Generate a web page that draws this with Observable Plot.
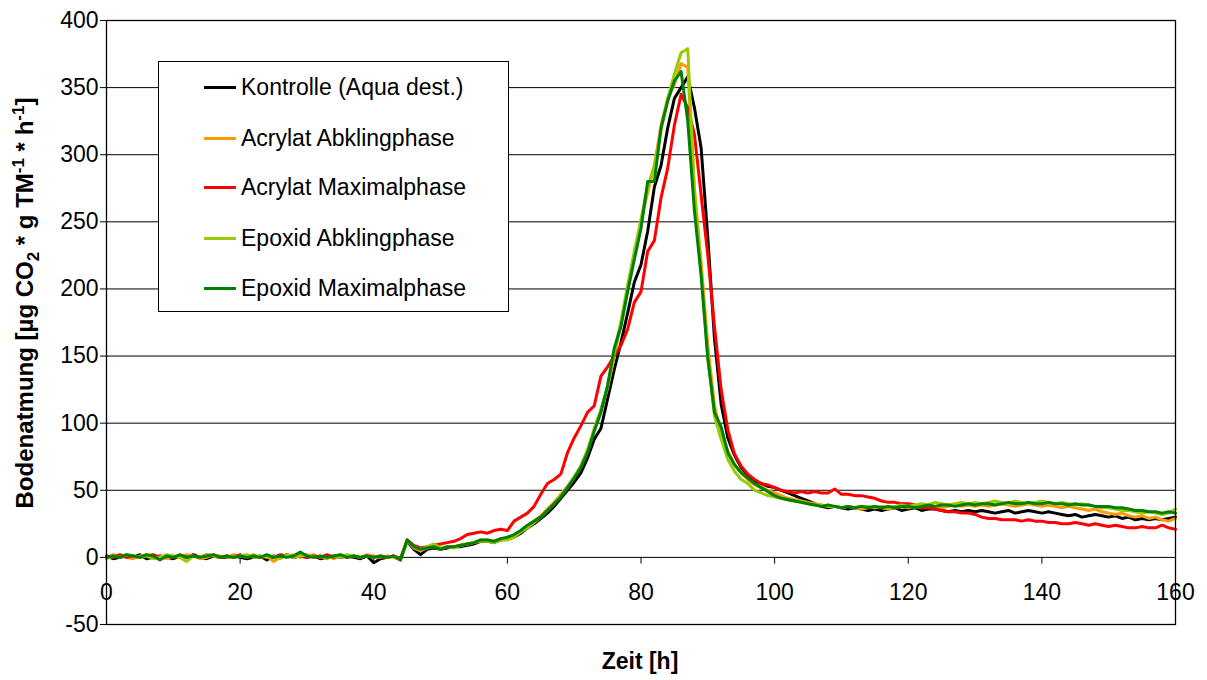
<!DOCTYPE html>
<html>
<head>
<meta charset="utf-8">
<script src="https://cdn.jsdelivr.net/npm/d3@7"></script>
<script src="https://cdn.jsdelivr.net/npm/@observablehq/plot@0.6"></script>
<style>
  body { margin: 0; background: #fff; font-family: "Liberation Sans", Arial, sans-serif; }
  #wrap { position: relative; width: 1207px; height: 680px; overflow: hidden; }
  #legend { position: absolute; left: 158px; top: 61px; width: 351px; height: 251px;
            border: 1px solid #000; background: #fff; box-sizing: border-box; }
  .row { position: absolute; left: 0; height: 30px; display: flex; align-items: center; }
  .sw { width: 32px; height: 3px; margin-left: 45px; margin-right: 5px; }
  .lbl { font-size: 23px; color: #000; white-space: nowrap; }
</style>
</head>
<body>
<div id="wrap"></div>
<script>
// ---- data (time in hours, respiration in µg CO2 * g TM^-1 * h^-1), one value per hour 0..160 ----
const hours = d3.range(0, 161, 1);

const seriesNames = [
  "Kontrolle (Aqua dest.)",
  "Acrylat Abklingphase",
  "Acrylat Maximalphase",
  "Epoxid Abklingphase",
  "Epoxid Maximalphase"
];
const seriesColors = ["#000000", "#FF9900", "#FF0000", "#99CC00", "#008000"];

const kontrolle = [
  1, -1, 0, 1, 0, 2, -1, 0, 1, 0,
  -1, 1, 0, 2, 0, -1, 1, 0, 0, 1,
  0, -1, 0, 1, -2, 1, 0, 2, 0, 1,
  0, 1, -1, 0, 1, 0, 1, 0, -1, 1,
  -4, -1, 0, 1, -1, 12, 6, 2, 6, 7,
  6, 7, 8, 8, 9, 10, 12, 12, 11, 13,
  14, 15, 18, 22, 25, 29, 33, 38, 44, 50,
  56, 63, 74, 88, 96, 118, 140, 160, 182, 205,
  218, 243, 276, 292, 320, 342, 350, 358, 335, 305,
  238, 163, 114, 89, 76, 67, 61, 57, 55, 53,
  52, 50, 48, 46, 44, 42, 40, 38, 37, 38,
  37, 36, 37, 36, 35, 36, 35, 36, 37, 35,
  36, 37, 35, 36, 36, 35, 34, 35, 34, 35,
  34, 35, 34, 33, 34, 35, 33, 34, 35, 34,
  33, 34, 33, 32, 31, 32, 30, 31, 32, 31,
  30, 31, 29, 30, 28, 29, 28, 29, 28, 29,
  30
];

const acrylatAbkling = [
  0, 2, 1, 0, -1, 1, 2, 0, 1, -1,
  1, 0, 2, 1, -1, 0, 2, 1, 0, 2,
  1, 0, 2, 0, 1, -3, 0, 1, 2, 0,
  1, 2, 0, 1, -1, 2, 0, 1, 0, 2,
  1, 0, 1, 0, -2, 13, 7, 5, 7, 8,
  6, 8, 8, 9, 10, 11, 13, 13, 12, 14,
  14, 16, 19, 23, 27, 31, 36, 41, 47, 53,
  60, 68, 80, 95, 110, 126, 150, 174, 200, 225,
  250, 272, 292, 322, 342, 352, 368, 365, 275, 220,
  158, 113, 92, 79, 69, 63, 58, 54, 52, 50,
  48, 46, 44, 43, 42, 41, 40, 39, 38, 38,
  37, 38, 37, 36, 37, 38, 37, 36, 37, 38,
  37, 38, 37, 38, 38, 37, 38, 39, 38, 39,
  38, 39, 38, 39, 40, 39, 38, 39, 40, 39,
  38, 39, 38, 37, 38, 37, 36, 35, 36, 34,
  33, 32, 33, 31, 30, 31, 29, 30, 28, 27,
  29
];

const acrylatMaximal = [
  1, 0, 2, 0, 1, 0, 1, 2, 0, 1,
  0, 1, 0, 1, 0, 2, 1, 0, 1, 0,
  2, 0, 1, 0, 1, 0, 2, 1, 0, 1,
  0, 1, 0, 2, 0, 1, 0, 1, 0, 1,
  0, 1, 0, 1, -1, 13, 9, 7, 8, 9,
  10, 11, 12, 14, 17, 18, 19, 18, 20, 21,
  20, 27, 30, 33, 38, 47, 55, 58, 62, 78,
  89, 98, 108, 113, 135, 142, 150, 158, 170, 190,
  198, 228, 236, 268, 290, 322, 345, 335, 315, 270,
  225, 172, 125, 95, 77, 68, 62, 58, 55, 54,
  52, 50, 49, 48, 49, 48, 49, 48, 48, 51,
  47, 47, 46, 46, 45, 44, 42, 41, 41, 40,
  40, 39, 37, 37, 36, 35, 34, 34, 33, 33,
  32, 30, 29, 29, 28, 28, 28, 27, 28, 27,
  27, 26, 26, 25, 25, 26, 25, 24, 25, 24,
  23, 24, 23, 22, 22, 23, 22, 22, 24, 22,
  21
];

const epoxidAbkling = [
  -1, 1, 0, 2, 1, 0, 1, -1, 0, 2,
  1, 0, -3, 1, 0, 2, 1, 0, 1, 0,
  1, 2, 0, 1, 0, 1, -1, 2, 0, 1,
  2, 0, 1, -1, 1, 0, 2, 1, 0, 1,
  0, 1, 0, 1, -2, 12, 8, 6, 8, 10,
  7, 8, 7, 9, 10, 11, 12, 12, 11, 13,
  13, 15, 19, 22, 26, 30, 35, 40, 46, 52,
  60, 68, 80, 96, 110, 128, 152, 176, 203, 228,
  252, 276, 292, 318, 342, 360, 376, 379, 270, 212,
  150, 105, 88, 73, 64, 58, 55, 50, 48, 46,
  45, 44, 43, 42, 41, 40, 39, 39, 38, 38,
  37, 38, 37, 38, 38, 37, 38, 37, 38, 39,
  38, 39, 40, 39, 41, 40, 39, 40, 41, 40,
  41, 40, 41, 42, 41, 40, 42, 41, 40, 41,
  42, 41, 40, 41, 40, 39, 40, 39, 38, 37,
  37, 36, 35, 35, 34, 33, 34, 33, 32, 33,
  36
];

const epoxidMaximal = [
  0, 1, 0, 2, 1, 0, 2, 1, -2, 1,
  0, 2, 0, 1, 0, 1, 2, 0, 1, 0,
  1, 0, 1, 0, 2, 0, 1, 0, 1, 4,
  1, 0, 1, 0, 1, 2, 0, 1, 0, 1,
  0, 1, 0, 1, -2, 13, 8, 6, 7, 8,
  6, 8, 8, 9, 10, 11, 13, 13, 12, 14,
  15, 17, 20, 24, 27, 30, 35, 40, 45, 52,
  59, 67, 78, 94, 108, 128, 156, 172, 198, 222,
  245, 280, 280, 320, 340, 355, 362, 325, 258, 210,
  148, 108, 97, 78, 69, 63, 59, 55, 52, 49,
  46, 44, 43, 42, 41, 40, 39, 38, 39, 38,
  37, 38, 37, 38, 37, 38, 37, 38, 37, 38,
  38, 37, 38, 39, 38, 39, 39, 38, 39, 40,
  39, 40, 40, 39, 40, 41, 40, 40, 41, 40,
  40, 41, 40, 40, 39, 40, 39, 39, 38, 38,
  38, 37, 37, 36, 35, 35, 34, 34, 33, 34,
  33
];

const seriesValues = [kontrolle, acrylatAbkling, acrylatMaximal, epoxidAbkling, epoxidMaximal];

const xTicks = [0, 20, 40, 60, 80, 100, 120, 140, 160];
const yTicks = [-50, 0, 50, 100, 150, 200, 250, 300, 350, 400];
const yGrid = [0, 50, 100, 150, 200, 250, 300, 350];

// ---- long table for Plot ----
const rows = seriesNames.flatMap((name, i) =>
  hours.map((t, j) => ({ series: name, t, v: seriesValues[i][j] }))
);

const chart = Plot.plot({
  width: 1207,
  height: 680,
  marginLeft: 106,
  marginRight: 32,
  marginTop: 20,
  marginBottom: 56,
  style: { fontFamily: "'Liberation Sans', Arial, sans-serif", fontSize: "23px", color: "#000", background: "#fff", overflow: "visible" },
  x: { domain: [0, 160], axis: null },
  y: { domain: [-50, 400] },
  color: { domain: seriesNames, range: seriesColors },
  marks: [
    Plot.ruleY(yGrid, { stroke: "#000", strokeWidth: 1 }),
    Plot.axisY({ ticks: yTicks, tickSize: 6, tickPadding: 2, tickFormat: d => String(d), label: null, fontSize: 23 }),
    Plot.ruleX(xTicks.slice(1, -1), { x: d => d, y1: 0, y2: -5, stroke: "#000" }),
    Plot.text(xTicks, { x: d => d, y: 0, dy: 35, text: d => String(d), fontSize: 23, fill: "#000" }),
    Plot.line(rows, { x: "t", y: "v", z: "series", stroke: "series", strokeWidth: 3, strokeLinejoin: "round", strokeLinecap: "round" }),
    Plot.frame({ stroke: "#000", strokeWidth: 1.3 })
  ]
});

const wrap = document.getElementById("wrap");
wrap.appendChild(chart);

// axis titles
const svg = d3.select(chart);
svg.append("text")
  .attr("x", 640).attr("y", 669)
  .attr("text-anchor", "middle")
  .attr("font-weight", "bold").attr("font-size", 23)
  .attr("fill", "#000")
  .text("Zeit [h]");

const yt = svg.append("text")
  .attr("transform", "translate(33,303) rotate(-90)")
  .attr("text-anchor", "middle")
  .attr("font-weight", "bold").attr("font-size", 24)
  .attr("fill", "#000");
yt.append("tspan").text("Bodenatmung [µg CO");
yt.append("tspan").attr("dy", 6).attr("font-size", 17).text("2");
yt.append("tspan").attr("dy", -6).text(" * g TM");
yt.append("tspan").attr("dy", -9).attr("font-size", 17).text("-1");
yt.append("tspan").attr("dy", 9).text(" * h");
yt.append("tspan").attr("dy", -9).attr("font-size", 17).text("-1");
yt.append("tspan").attr("dy", 9).text("]");

// legend
const legend = document.createElement("div");
legend.id = "legend";
const rowTops = [10, 61, 110, 161, 211];
seriesNames.forEach((name, i) => {
  const r = document.createElement("div");
  r.className = "row";
  r.style.top = rowTops[i] + "px";
  const sw = document.createElement("div");
  sw.className = "sw";
  sw.style.background = seriesColors[i];
  const lb = document.createElement("span");
  lb.className = "lbl";
  lb.textContent = name;
  r.appendChild(sw);
  r.appendChild(lb);
  legend.appendChild(r);
});
wrap.appendChild(legend);
</script>
</body>
</html>
